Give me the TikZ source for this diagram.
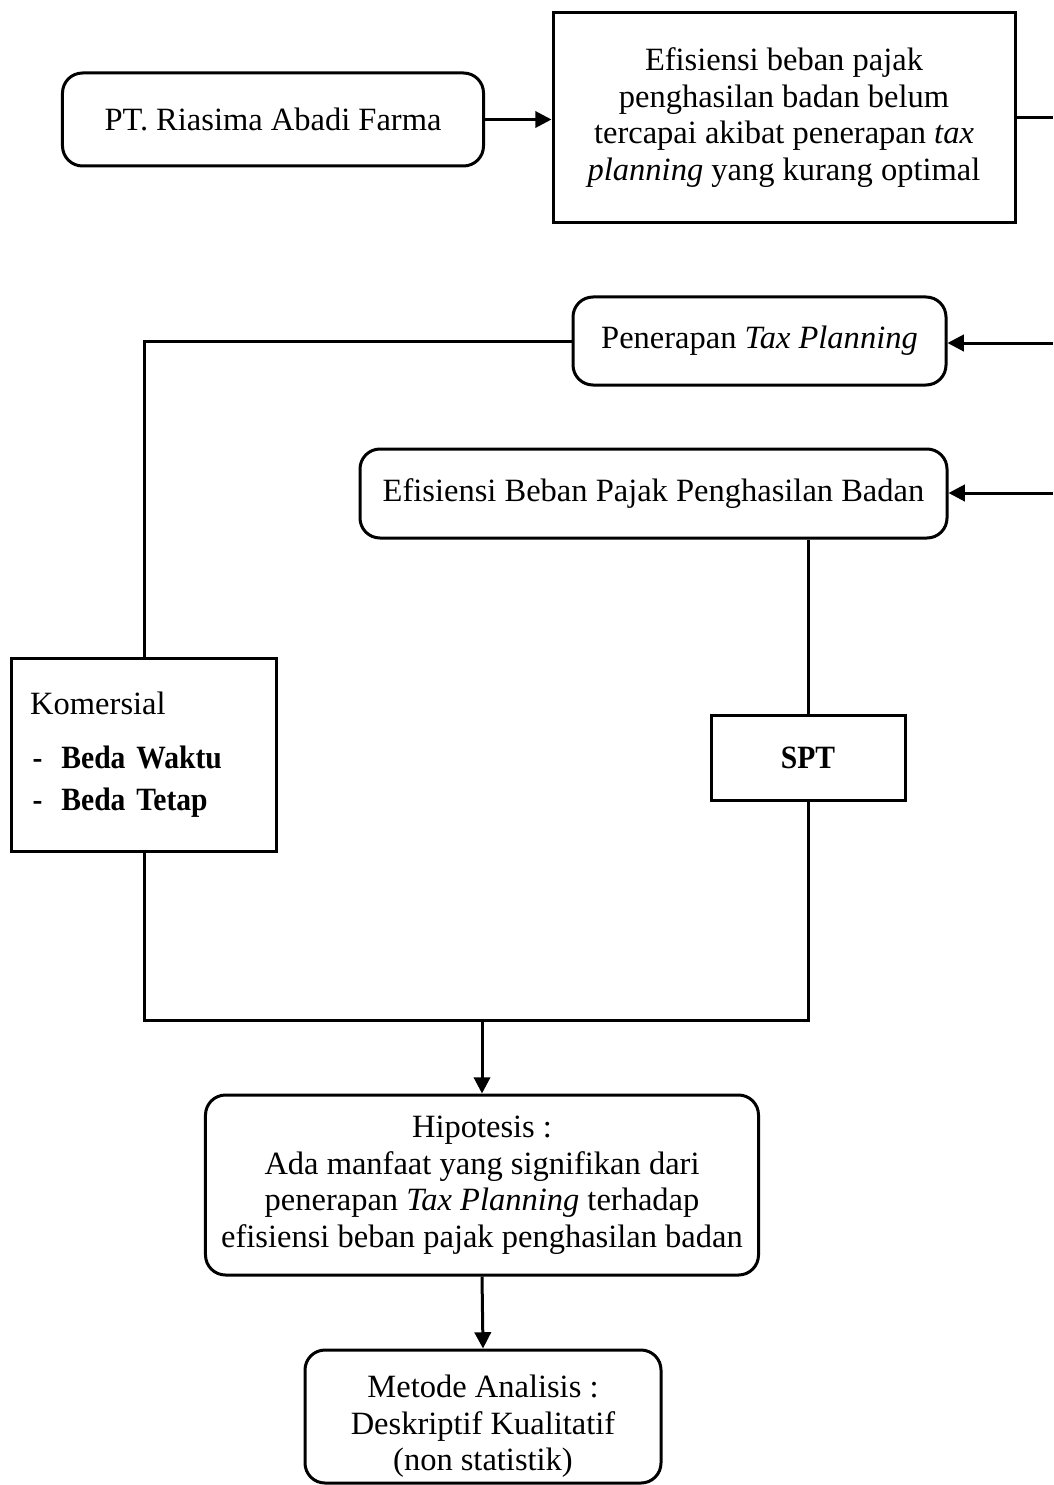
\documentclass[tikz,border=0pt]{standalone}
\usepackage{fontspec}
\setmainfont{Liberation Serif}
\newfontfamily\tebal[UprightFont=* Bold, FakeStretch=0.91]{Liberation Serif}
\usetikzlibrary{arrows.meta,positioning}

\begin{document}
\begin{tikzpicture}[x=0.4pt,y=-0.4pt, line width=1.2pt,
  every node/.style={font=\fontsize{13}{14.6}\selectfont},
  rbox/.style={draw, rounded corners=8pt, align=center, inner sep=0pt},
  sbox/.style={draw, align=center, inner sep=0pt},
  arr/.style={-{Triangle[length=6.5pt,width=6.5pt]}}]
\useasboundingbox (0,0) rectangle (1053,1485);
% kotak-kotak
\node[rbox, minimum width=168.4pt, minimum height=37.2pt] (pt) at (273,119.5) {PT. Riasima Abadi Farma};
\node[sbox, minimum width=184.8pt, minimum height=83.6pt] (masalah) at (784,117.5)
  {Efisiensi beban pajak\\ penghasilan badan belum\\ tercapai akibat penerapan \textit{tax}\\ \textit{planning} yang kurang optimal};
\node[rbox, minimum width=149.2pt, minimum height=35.2pt] (tp) at (759.5,341) {Penerapan \textit{Tax Planning}};
\node[rbox, minimum width=234.8pt, minimum height=35.6pt] (efisiensi) at (653.5,493.5) {Efisiensi Beban Pajak Penghasilan Badan};
\node[sbox, align=left, minimum width=105.6pt, minimum height=77.2pt, text width=91pt, inner sep=7.3pt] (komersial) at (144,754.5)
  {Komersial\\[7pt] {\tebal\hspace{1pt}-\hspace{0.58em}Beda Waktu}\\[2pt] {\tebal\hspace{1pt}-\hspace{0.58em}Beda Tetap}};
\node[sbox, minimum width=77.6pt, minimum height=34pt] (spt) at (808,757.5) {\tebal SPT};
\node[rbox, minimum width=221.2pt, minimum height=72pt] (hipotesis) at (482,1185)
  {Hipotesis :\\ Ada manfaat yang signifikan dari\\ penerapan \textit{Tax Planning} terhadap\\ efisiensi beban pajak penghasilan badan};
\node[rbox, minimum width=142.4pt, minimum height=53.2pt] (metode) at (483,1416.5)
  {\rule{0pt}{17pt}Metode Analisis :\\ Deskriptif Kualitatif\\ (non statistik)};
% ujung bebas
\coordinate (kanan1) at (1053,118);
\coordinate (kanan2) at (1053,343);
\coordinate (kanan3) at (1053,493);
\coordinate (gabung) at (482,1020);
% garis
\draw[arr] (pt.east) -- (pt.east -| masalah.west);
\draw (masalah.east) -- (masalah.east -| kanan1);
\draw[arr] (kanan2) -- (kanan2 -| tp.east);
\draw[arr] (kanan3) -- (kanan3 -| efisiensi.east);
\draw (tp.west) -| (komersial.north);
\draw (efisiensi.south -| spt.north) -- (spt.north);
\draw (komersial.south) |- (gabung) -| (spt.south);
\draw[arr] (gabung) -- (hipotesis.north);
\draw[arr] (hipotesis.south) -- (metode.north);
\end{tikzpicture}
\end{document}
